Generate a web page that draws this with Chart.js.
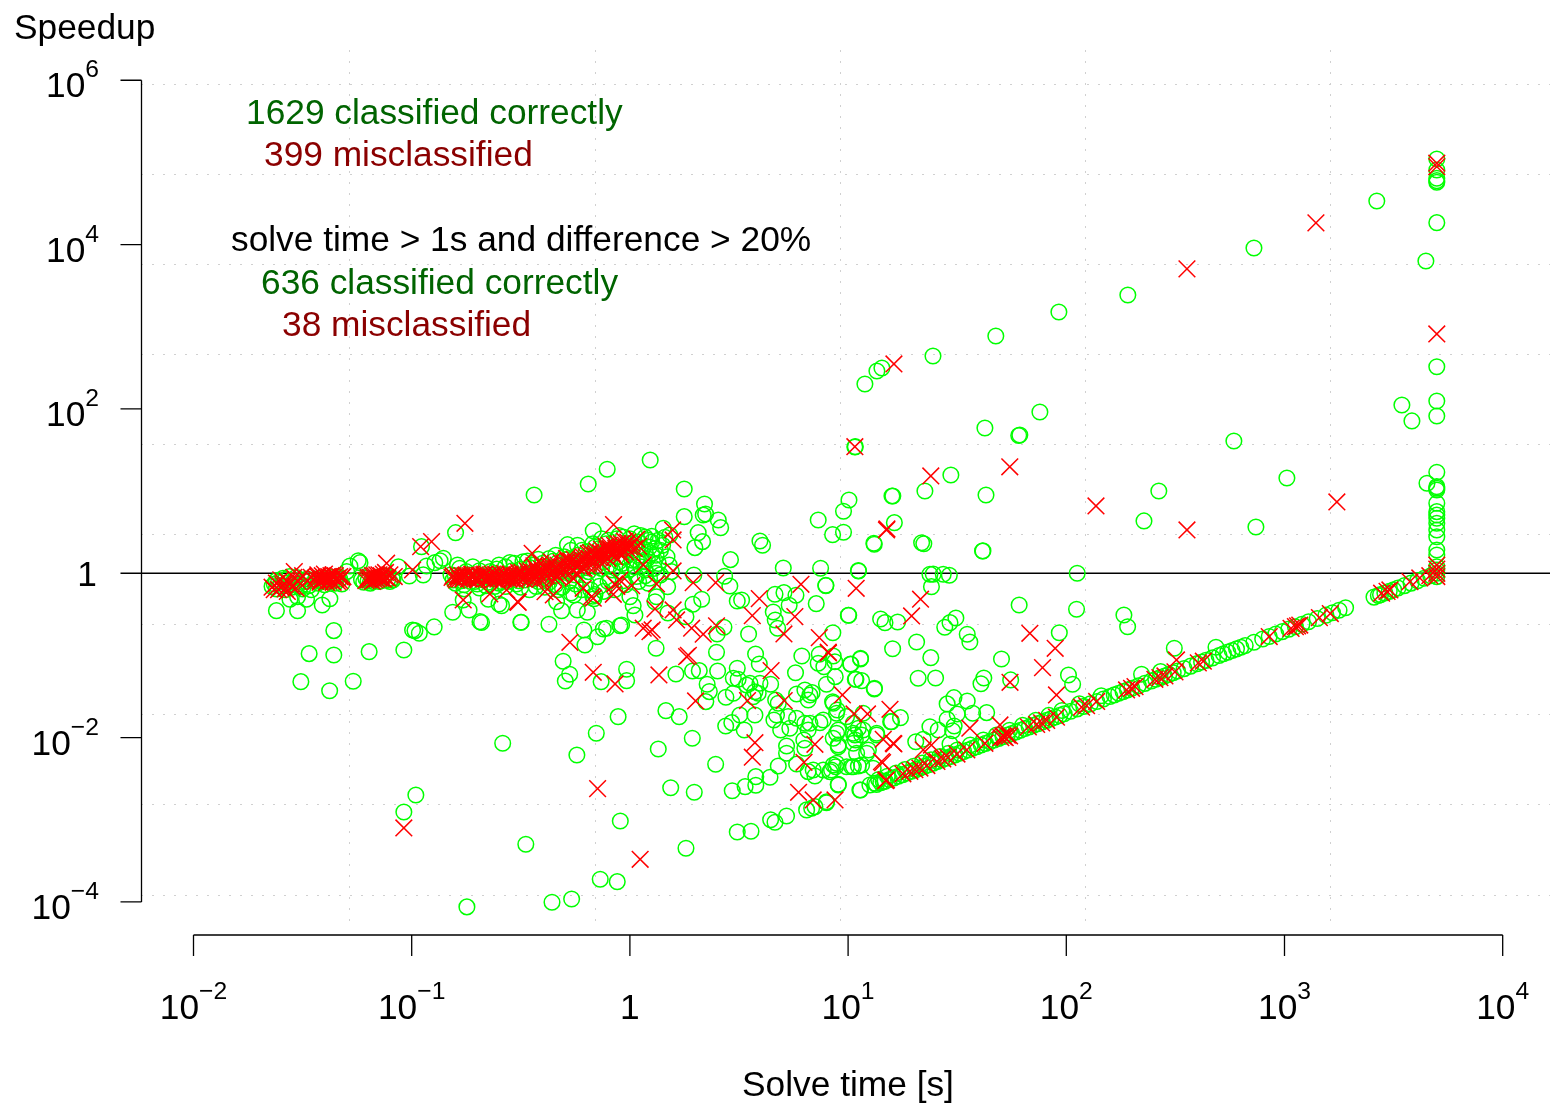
<!DOCTYPE html>
<html>
<head>
<meta charset="utf-8">
<title>Speedup vs solve time</title>
<script src="https://cdn.jsdelivr.net/npm/chart.js@4"></script>
<style>
  html, body { margin: 0; padding: 0; background: #fff; }
  canvas { display: block; }
</style>
</head>
<body>
<canvas id="chart" width="1550" height="1103"></canvas>
<script>
// all marks are [log10(solve time), log10(speedup)]
const xExponents = [-2, -1, 0, 1, 2, 3, 4];
const yExponents = [-4, -2, 0, 2, 4, 6];
const xGridExponents = [-1.283, -0.156, 0.967, 2.09, 3.213];
const yGridExponents = [5.943, 4.847, 3.752, 2.657, 1.562, 0.466, -0.629, -1.724, -2.819, -3.923];

const correctFlat = [
  [-1.64,-.16],[-1.63,-.13],[-1.62,-.19],[-1.62,-.09],[-1.6,-.15],[-1.59,-.06],[-1.58,-.2],[-1.57,-.12],[-1.56,-.04],[-1.55,-.17],
  [-1.54,-.09],[-1.52,-.13],[-1.5,-.19],[-1.49,-.1],[-1.47,-.15],[-1.46,-.2],[-1.44,-.07],[-1.43,-.12],[-1.42,-.08],[-1.4,-.14],
  [-1.38,-.1],[-1.37,-.05],[-1.35,-.12],[-1.33,-.07],[-1.32,-.13],[-1.23,-.08],[-1.22,-.11],[-1.2,-.09],[-1.19,-.12],[-1.17,-.07],
  [-1.15,-.1],[-1.13,-.05],[-1.11,-.08],[-1.09,-.06],[-1.086,-.08],[-.82,-.02],[-.81,-.08],[-.8,-.12],[-.79,.1],[-.78,-.04],
  [-.76,-.14],[-.75,.02],[-.73,-.1],[-.72,-.04],[-.7,-.13],[-.69,.03],[-.67,-.08],[-.66,-.15],[-.64,.02],[-.63,-.06],
  [-.61,.05],[-.6,-.12],[-.58,-.02],[-.57,.08],[-.56,-.1],[-.54,.03],[-.53,.12],[-.52,-.13],[-.5,.05],[-.49,.14],
  [-.48,-.08],[-.46,.07],[-.45,-.02],[-.44,.1],[-.43,-.16],[-.41,.02],[-.4,.12],[-.38,-.06],[-.37,.18],[-.36,.06],
  [-.34,-.14],[-.33,.13],[-.32,.02],[-.3,.2],[-.29,.08],[-.28,-.1],[-.27,.28],[-.26,.14],[-.25,-.02],[-.24,.22],
  [-.23,.06],[-.22,-.2],[-.21,.16],[-.2,.26],[-.19,.02],[-.18,.1],[-.17,-.28],[-.165,-.31],[-.16,-.26],[-.15,.2],
  [-.14,.3],[-.13,.06],[-.12,.14],[-.11,.36],[-.1,-.1],[-.09,.24],[-.08,.04],[-.07,.32],[-.06,.42],[-.05,.14],
  [-.04,.3],[-.03,.44],[-.02,.2],[-.01,.36],[0,.05],[.01,.28],[.02,.48],[.03,.16],[.04,.38],[.05,.08],
  [.06,.3],[.07,.44],[.08,.18],[.09,.32],[.1,.38],[.11,.06],[.12,.22],[.13,.12],[.14,.28],[.15,.34]
];

const correctDense = [
  [-1.61,-.11],[-1.58,-.08],[-1.53,-.05],[-1.51,-.16],[-1.48,-.07],[-1.41,-.1],[-1.39,-.06],[-1.36,-.09],[-1.34,-.04],[-1.21,-.06],
  [-1.18,-.1],[-1.16,-.05],[-1.14,-.09],[-1.12,-.03],[-1.1,-.1],[-.8,-.03],[-.77,-.09],[-.74,-.02],[-.71,-.1],[-.68,-.03],
  [-.65,-.11],[-.62,-.02],[-.59,-.1],[-.55,-.04],[-.51,-.09],[-.47,-.01],[-.42,-.1],[-.39,.08],[-.35,-.04],[-.31,.1],
  [-.27,.02],[-.235,.14],[-.19,.18],[-.155,.08],[-.125,.24],[-.09,.1],[-.06,.2],[-.035,.12],[-.015,.28],[.01,.16],
  [.025,.36],[.045,.22],[.065,.14],[.085,.4],[.1,.24],[.115,.3],[-.44,-.07],[-.37,-.11],[-.31,-.17],[-.25,-.13],
  [-.2,-.12],[-.14,-.16],[-.09,-.08],[-.03,-.09],[.03,-.04],[.07,-.03],[-.34,.22],[-.24,.34],[-.17,.36],[-.13,.42],
  [-.78,.06],[-.72,.08],[-.66,.07],[-.6,.1],[-.55,.13],[-.47,.15],[-.42,.17],[-.35,.15],[-.28,.18],[-.22,.28],
  [-.16,.32],[-.1,.4],[-.05,.46],[0,.42],[.05,.46],[.1,.45],[.13,.4],[.17,.2],[.18,.1],[.19,.02],
  [-.76,-.19],[-.69,-.18],[-.62,-.16],[-.57,-.16],[-.5,-.17],[-.46,-.2],[-.39,-.17],[-.33,-.2],[-.27,-.24],[-.18,-.2],
  [-.12,-.22],[-.07,-.2],[-.02,-.14],[.04,-.1],[.09,-.06],[.14,-.02],[-.04,.02],[.02,.08],[.07,.04],[.12,.0]
];

const correctMiddle = [
  [-1.62,-.455],[-1.523,-.455],[-1.41,-.386],[-1.375,-.31],[-1.482,-.316],[-1.558,-.316],[-1.523,-.285],[-1.357,-.698],[-1.47,-.978],[-1.357,-.994],
  [-1.195,-.954],[-1.036,-.933],[-1.508,-1.319],[-1.376,-1.429],[-1.268,-1.315],[-.996,-.69],[-.985,-.698],[-.965,-.73],[-.897,-.653],[-.812,-.475],
  [-.764,-.325],[-.737,-.447],[-.687,-.589],[-.68,-.6],[-.649,-.316],[-.6,-.374],[-.5,-.596],[-.799,.494],[-.955,.324],[-.439,.953],
  [-1.283,.089],[-1.245,.153],[-1.237,.129],[-1.298,.02],[-1.061,.08],[-.855,.182],[-.87,.153],[-.894,.129],[-.932,.089],[-.947,-.02],[-1.011,-.033],
  [-.191,1.087],[-.104,1.266],[.093,1.379],[.249,1.026],[.342,.843],[.347,.722],[.336,.71],[.405,.649],[.416,.555],[.249,.689],
  [.313,.494],[.333,.385],[.298,.312],[.153,.548],[.16,.438],[.183,.466],[-.168,.518],[-.286,.348],[.461,.166],[.596,.393],
  [.608,.341],[.863,.649],[1.004,.892],[.979,.755],[.979,.499],[.929,.47],[1.118,.365],[1.201,.941],[1.212,.616],[1.033,1.541],
  [.703,.065],[.874,.061],[1.048,.028],[.898,-.146],[.854,-.37],[1.003,-.511],[.293,-.021],[.434,-.036],[.458,-.155],[.329,-.316],
  [.289,-.377],[.257,-.528],[.492,-.337],[.512,-.325],[.665,-.256],[.706,-.236],[.761,-.268],[.73,-.389],[.657,-.471],[.666,-.568],
  [.677,-.669],[.544,-.739],[.4,-.739],[.431,-.657],[.397,-.961],[.12,-.913],[.174,-.483],[.122,-.285],[.115,-.346],[.173,-.163],
  [.084,-.122],[0,-.285],[.015,-.394],[.023,-.507],[-.038,-.629],[-.046,-.638],[-.107,-.669],[-.122,-.678],[-.148,-.772],[-.211,-.69],
  [-.206,-.873],[-.306,-1.071],[-.276,-1.229],[-.296,-1.311],[-.132,-1.319],[-.015,-1.168],[-.015,-1.307],[-.371,-.621],[-.498,-.596],[-.588,-.394],
  [-.313,-.455],[-.241,-.447],[-.195,-.475],[-.257,-.264],[-.336,-.346],[.211,-1.226],[.287,-1.189],[.318,-1.185],[.402,-1.189],[.354,-1.351],
  [.364,-1.44],[.348,-1.562],[.165,-1.672],[.226,-1.745],[-.054,-1.745],[-.154,-1.947],[.286,-2.008]
];

const correctLower = [
  [.576,-.982],[.593,-1.104],[.492,-1.156],[.788,-1.006],[.759,-1.21],[.868,-.986],[.863,-1.095],[.889,-1.137],[.932,-1.006],[.939,-1.076],
  [1.011,-1.104],[1.057,-1.034],[1.033,-1.29],[1.062,-1.307],[1.12,-1.408],[.941,-1.258],[.901,-1.351],[.645,-1.351],[.474,-1.278],[.496,-1.29],
  [.55,-1.339],[.535,-1.359],[.596,-1.339],[.44,-1.509],[.474,-1.46],[.573,-1.441],[.588,-1.46],[.565,-1.502],[.668,-1.542],[.68,-1.582],
  [.764,-1.469],[.802,-1.42],[.835,-1.453],[.817,-1.542],[.825,-1.481],[.929,-1.563],[.95,-1.664],[.573,-1.724],[.504,-1.724],[.467,-1.818],
  [.439,-1.858],[.524,-1.907],[.66,-1.785],[.672,-1.724],[.725,-1.745],[.691,-1.907],[.733,-1.886],[.764,-1.764],[.802,-1.825],[.825,-1.825],
  [.817,-1.907],[.871,-1.818],[.993,-1.745],[.955,-1.907],[.932,-2.008],[.955,-2.11],[.718,-2.102],[.718,-2.19],[.797,-2.029],[.802,-2.13],
  [.68,-2.345],[.642,-2.483],[.577,-2.475],[.577,-2.58],[.528,-2.597],[.469,-2.646],[.764,-2.321],[.817,-2.414],[.848,-2.467],[.84,-2.394],
  [.932,-2.333],[.917,-2.414],[.947,-2.312],[.955,-2.568],[.901,-2.792],[.848,-2.84],[.833,-2.86],[.81,-2.88],[.718,-2.954],[.645,-3],
  [.665,-3.03],[.555,-3.14],[.492,-3.148],[.393,-2.325],[.187,-2.61],[.295,-2.665],[.13,-2.138],[-.044,-3.014],[.257,-3.347],[-.243,-2.211],
  [-.583,-2.069],[-.477,-3.298],[-.136,-3.724],[-.058,-3.753],[-.357,-4.004],[-.267,-3.964],[-1.036,-2.905],[-.981,-2.698],[-.747,-4.06],
  [1.069,-1.704],[1.024,-1.825],[1.047,-1.886],[1.024,-1.947],[1.062,-1.968],[1.033,-2.029],[1.069,-1.907],[1.093,-2.15],[1.131,-1.968],[1.199,-1.806],
  [.993,-2.354],[1.016,-2.354],[1.047,-2.345],[1.115,-2.373],[1.054,-2.637],[1.1,-2.576],[1.123,-2.556],[1.161,-2.536],[.932,-1.582],[.947,-1.704],
  [.886,-1.785],[.947,-1.947],[1.031,-1.968],[1.024,-2.069],[.955,-2.09],[1.039,-2.19],[1.085,-2.19],[1.131,-1.947],[1.024,-2.354],[.943,-2.354],[.924,-2.394],[1.062,-2.333],[.886,-2.394]
];

const correctRight = [
  [1.616,.271],[1.12,.353],[1.337,.372],[1.347,.36],[1.047,.032],[1.375,-.012],[1.39,-.01],[1.436,-.012],[1.464,-.024],[2.05,0],
  [.898,-.151],[1.382,-.163],[1.784,-.386],[2.047,-.438],[2.264,-.507],[2.281,-.65],[1.001,-.511],[1.149,-.556],[1.169,-.601],[1.227,-.593],
  [1.443,-.657],[1.467,-.601],[1.494,-.544],[1.546,-.742],[1.558,-.836],[1.968,-.723],[.93,-.723],[1.314,-.836],[1.204,-.918],[1.379,-1.027],
  [1.057,-1.043],[1.013,-1.107],[1.703,-1.043],[1.321,-1.278],[1.401,-1.274],[1.036,-1.29],[1.121,-1.4],[1.622,-1.274],[1.609,-1.344],[1.745,-1.298],
  [2.01,-1.238],[2.029,-1.351],[1.485,-1.514],[1.454,-1.59],[1.546,-1.554],[1.5,-1.712],[1.571,-1.704],[1.635,-1.696],[1.454,-1.777],[1.486,-1.858],
  [1.479,-1.916],[1.24,-1.757],[1.195,-1.806],[1.375,-1.867],[1.413,-1.907],[1.344,-2.02],[1.31,-2.05],[1.467,-2.078],[.955,-2.576],[1.057,-2.637],
  [.901,-2.78],[2.345,-1.229],[2.432,-1.197],[2.495,-.913],[2.686,-.901],
  [3.423,4.531],[2.86,3.959],[2.282,3.387],[1.966,3.18],[1.677,2.888],[1.389,2.644],[1.155,2.498],[1.132,2.462],[1.077,2.304],[1.031,1.537],
  [1.627,1.768],[1.787,1.683],[1.782,1.676],[1.879,1.963],[1.471,1.196],[1.352,1.001],[1.205,.941],[1.632,.953],[1.618,.272],[2.768,1.61],
  [3.011,1.16],[2.424,1.002],[2.356,.637],[2.869,.563],[3.648,3.8],[3.538,2.048],[3.584,1.854],[3.653,1.095]
];

const correctTimeout = [
  [3.698,5.042],[3.698,4.908],[3.698,4.807],[3.698,4.778],[3.698,4.758],[3.698,4.267],[3.698,2.514],[3.698,2.097],[3.698,1.914],[3.698,1.229],
  [3.698,1.054],[3.698,1.034],[3.698,1.014],[3.698,.852],[3.698,.75],[3.698,.71],[3.698,.669],[3.698,.608],[3.698,.527],[3.698,.445],
  [3.698,.284],[3.698,.223],[3.698,.08],[3.698,.04],[3.698,0],[3.698,-.041]
];

const correctDiagonal = [
  [1.13,-2.57],[1.15,-2.55],[1.17,-2.53],[1.19,-2.51],[1.21,-2.49],[1.23,-2.47],[1.25,-2.45],[1.27,-2.43],[1.29,-2.41],[1.31,-2.39],
  [1.33,-2.37],[1.35,-2.35],[1.37,-2.33],[1.39,-2.31],[1.41,-2.29],[1.43,-2.27],[1.45,-2.25],[1.47,-2.23],[1.49,-2.21],[1.51,-2.19],
  [1.53,-2.17],[1.55,-2.15],[1.57,-2.13],[1.59,-2.11],[1.61,-2.09],[1.63,-2.07],[1.65,-2.05],[1.67,-2.03],[1.69,-2.01],[1.71,-1.99],
  [1.73,-1.97],[1.75,-1.95],[1.77,-1.93],[1.79,-1.91],[1.81,-1.89],[1.83,-1.87],[1.85,-1.85],[1.87,-1.83],[1.89,-1.81],[1.91,-1.79],
  [1.93,-1.77],[1.95,-1.75],[1.97,-1.73],[1.99,-1.71],[2.02,-1.68],[2.05,-1.65],[2.08,-1.62],[2.11,-1.59],[2.14,-1.56],[2.17,-1.53],
  [2.2,-1.5],[2.22,-1.48],[2.24,-1.46],[2.26,-1.44],[2.28,-1.42],[2.3,-1.4],[2.33,-1.37],[2.36,-1.34],[2.39,-1.31],[2.41,-1.29],
  [2.43,-1.27],[2.45,-1.25],[2.47,-1.23],[2.49,-1.21],[2.51,-1.19],[2.54,-1.16],[2.57,-1.13],[2.6,-1.1],[2.62,-1.08],[2.64,-1.06],
  [2.67,-1.03],[2.7,-1],[2.72,-.98],[2.74,-.96],[2.76,-.94],[2.78,-.92],[2.8,-.9],[2.82,-.88],[2.86,-.84],[2.9,-.8],
  [2.93,-.77],[2.96,-.74],[2.99,-.71],[3.02,-.68],[3.05,-.65],[3.08,-.62],[3.11,-.59],[3.15,-.55],[3.19,-.51],[3.22,-.48],[3.25,-.45],[3.28,-.42],
  [3.41,-.29],[3.43,-.27],[3.44,-.26],[3.46,-.24],[3.48,-.22],[3.5,-.2],[3.52,-.18],[3.55,-.15],[3.58,-.12],[3.61,-.09],[3.64,-.06],[3.67,-.03],
  [1.14,-2.51],[1.18,-2.47],[1.22,-2.43],[1.26,-2.39],[1.3,-2.35],[1.34,-2.31],[1.38,-2.27],[1.42,-2.23],[1.46,-2.19],[1.5,-2.15],
  [1.56,-2.09],[1.62,-2.03],[1.68,-1.97],[1.74,-1.91],[1.8,-1.85],[1.86,-1.79],[1.92,-1.73],[1.98,-1.67],[2.06,-1.59],[2.16,-1.49]
];

const wrongFlat = [
  [-1.64,-.17],[-1.62,-.12],[-1.61,-.2],[-1.6,-.08],[-1.59,-.14],[-1.58,-.19],[-1.57,-.1],[-1.55,-.16],[-1.54,-.05],[-1.538,.02],
  [-1.52,-.1],[-1.5,-.03],[-1.48,-.09],[-1.46,-.05],[-1.44,-.1],[-1.43,-.04],[-1.42,-.09],[-1.41,-.03],[-1.4,-.07],[-1.39,-.11],
  [-1.38,-.04],[-1.37,-.08],[-1.36,-.02],[-1.35,-.07],[-1.34,-.1],[-1.33,-.04],[-1.315,-.041],[-1.2,-.08],[-1.19,-.05],[-1.18,-.1],
  [-1.17,-.03],[-1.16,-.07],[-1.15,-.02],[-1.14,-.06],[-1.13,-.01],[-1.12,-.05],[-1.115,.122],[-1.1,-.02],[-1.08,-.04],[-.996,.04],
  [-.756,.608],[-.909,.385],[-.959,.324],[-.764,-.325],[-.642,-.252],[-.515,-.345],[-.565,-.203],
  [-.81,-.03],[-.8,-.06],[-.79,-.02],[-.78,-.07],[-.77,-.03],[-.76,-.05],[-.75,-.02],[-.74,-.07],[-.73,-.03],[-.72,-.05],
  [-.71,-.02],[-.7,-.07],[-.69,-.03],[-.68,-.05],[-.67,-.02],[-.66,-.07],[-.65,-.03],[-.64,-.05],[-.63,-.01],[-.62,-.07],
  [-.61,-.03],[-.6,-.05],[-.59,-.02],[-.58,-.07],[-.57,-.03],[-.56,-.05],[-.55,-.01],[-.54,-.07],[-.53,-.03],[-.52,-.05],
  [-.51,.01],[-.5,-.06],[-.49,-.02],[-.48,-.04],[-.47,.03],[-.46,-.06],[-.45,.01],[-.448,.243],[-.44,-.03],[-.43,.05],
  [-.42,-.01],[-.41,-.07],[-.4,.03],[-.39,.06],[-.38,-.03],[-.37,.08],[-.36,.02],[-.35,-.06],[-.34,.06],[-.33,.1],
  [-.32,0],[-.31,.08],[-.3,.12],[-.29,.03],[-.28,.1],[-.27,.15],[-.26,.04],[-.25,.13],[-.24,-.02],[-.23,.1],
  [-.22,.17],[-.21,.06],[-.2,.2],[-.19,.12],[-.18,.25],[-.17,.17],[-.16,.22],[-.15,.27],[-.14,.19],[-.13,.29],
  [-.12,.23],[-.11,.33],[-.1,.26],[-.09,.3],[-.08,.24],[-.07,.34],[-.06,.27],[-.05,.31],[-.04,.36],[-.03,.29],
  [-.02,.34],[-.01,.38],[.031,.414],[-.075,.592],[.061,.101],[.198,.028],[.122,-.13],[.29,-.114],[.393,-.114],[1.176,.527],
  [-.512,-.353],[-.389,-.224],[-.351,-.264],[-.214,-.183],[-.168,-.304],[-.176,-.285],[-.076,-.256],[-.046,-.082],[.008,-.151],[-.07,-.13],[-.06,-.16],
  [.196,.527],[.198,.405]
];

const wrongDense = [
  [-1.63,-.2],[-1.6,-.17],[-1.57,-.22],[-1.56,-.13],[-1.53,-.18],[-1.44,-.06],[-1.43,-.02],[-1.42,-.11],[-1.41,-.07],[-1.4,-.01],
  [-1.39,-.05],[-1.38,-.09],[-1.37,-.03],[-1.36,-.11],[-1.35,-.03],[-1.34,-.06],[-1.33,-.09],[-1.32,-.05],[-1.21,-.09],[-1.2,-.05],
  [-1.19,-.08],[-1.18,-.03],[-1.17,-.08],[-1.16,-.02],[-1.15,-.06],[-1.14,-.03],[-1.13,-.07],[-1.12,.01],[-1.11,-.06],
  [-.815,-.05],[-.795,-.08],[-.785,-.04],[-.765,-.07],[-.755,-.03],[-.735,-.06],[-.725,-.01],[-.705,-.05],[-.695,-.08],[-.675,-.04],
  [-.665,-.01],[-.645,-.07],[-.635,-.04],[-.615,-.01],[-.605,-.07],[-.585,-.04],[-.575,0],[-.555,-.07],[-.545,-.03],[-.525,-.08],
  [-.515,-.02],[-.495,.01],[-.485,-.07],[-.465,-.01],[-.455,.03],[-.435,-.07],[-.425,.02],[-.405,.05],[-.395,-.01],[-.375,.03],
  [-.365,.1],[-.345,.01],[-.335,.07],[-.315,.13],[-.305,.03],[-.285,.15],[-.275,.07],[-.255,.17],[-.245,.09],[-.225,.14],
  [-.215,.2],[-.195,.09],[-.185,.18],[-.165,.13],[-.155,.24],[-.135,.25],[-.125,.18],[-.105,.29],[-.095,.34],[-.085,.28],[-.065,.3],[-.055,.36],[-.045,.26],[-.025,.39],[-.015,.31],
  [-.44,.09],[-.41,.12],[-.36,.14],[-.33,-.04],[-.29,.18],[-.26,-.06],[-.22,.07],[-.19,.24],[-.16,.08],[-.13,.12],
  [-.1,.18],[-.07,.2],[-.04,.22],[-.02,.26],[0,.32],[.01,.36],[.02,.3],[.04,.33]
];

const wrongScattered = [
  [.784,-.134],[1.037,-.183],[.593,-.309],[.756,-.528],[.561,-.516],[.706,-.739],[.868,-.783],[.909,-.961],[.115,-.434],[.198,-.447],
  [.214,-.568],[.283,-.669],[.336,-.742],[.397,-.641],[.061,-.669],[.102,-.69],[.092,-.71],[.26,-1.014],[.268,-1],[-.275,-.84],
  [-.168,-1.205],[-.068,-1.347],[.133,-1.238],[.647,-1.185],[.301,-1.554],[.539,-1.55],[.707,-1.55],[.974,-1.481],[1.027,-1.712],[1.089,-1.712],
  [1.192,-1.655],[.573,-2.062],[.561,-2.239],[-.148,-2.621],[.047,-3.481],[.848,-2.081],[.798,-2.3],[1.158,-2.305],[1.176,-2.515],[.773,-2.665],
  [.84,-2.759],[.94,-2.759],[1.161,-2.02],[1.207,-2.069],[-1.036,-3.1],[3.144,4.264],[2.553,3.704],[1.21,2.547],[1.031,1.54],[1.379,1.184],
  [1.741,1.296],[2.136,.819],[2.553,.527],[3.24,.868],[1.178,.539],[3.698,4.99],[3.698,4.948],[3.698,2.912],[1.332,-.316],[1.291,-.52],
  [1.833,-.73],[1.949,-.913],[1.891,-1.149],[1.742,-1.327],[1.955,-1.481],[1.21,-2.077],[1.153,-2.293],[1.172,-2.524],[1.382,-2.09],[1.344,-2.15],
  [1.558,-1.886],[1.627,-2.069],[1.696,-1.846],[2.505,-1.055],[.91,-.97]
];

const wrongDiagonal = [
  [1.251,-2.44],[1.283,-2.41],[1.306,-2.39],[1.329,-2.37],[1.361,-2.34],[1.407,-2.29],[1.434,-2.26],[1.457,-2.24],[1.499,-2.2],[1.544,-2.15],
  [1.7,-2],[1.71,-1.98],[1.72,-2],[1.73,-1.97],[1.74,-1.98],[1.715,-1.99],[1.826,-1.87],[1.864,-1.84],[1.887,-1.82],[1.91,-1.79],
  [1.955,-1.75],[2.07,-1.63],[2.093,-1.61],[2.139,-1.56],[2.276,-1.42],[2.299,-1.4],[2.315,-1.38],[2.406,-1.29],[2.429,-1.27],[2.452,-1.25],
  [2.498,-1.2],[2.605,-1.09],[2.628,-1.07],[2.93,-.77],[3.03,-.67],[3.05,-.65],[3.06,-.64],[3.07,-.63],[3.16,-.54],[3.21,-.49],
  [3.445,-.243],[3.483,-.203],[3.575,-.102],[3.62,-.057],[3.666,-.03],[3.698,.1],[3.698,.05],[3.698,0],[3.698,-.04],[3.47,-.22]
];

const noteLines = ["1629 classified correctly", "399 misclassified", "solve time > 1s and difference > 20%", "636 classified correctly", "38 misclassified"];
const noteColors = ["#006400", "#8b0000", "#000000", "#006400", "#8b0000"];
const noteX = [246, 264, 231, 261, 282];
const noteY = [124, 166, 251, 294, 336];

const toPoints = (list) => list.map((p) => ({ x: Math.pow(10, p[0]), y: Math.pow(10, p[1]) }));

const xMin = Math.pow(10, -2.2406);
const xMax = Math.pow(10, 4.2168);
const yMin = Math.pow(10, -4.317);
const yMax = Math.pow(10, 6.368);

const correct = toPoints([...correctFlat, ...correctDense, ...correctMiddle, ...correctLower, ...correctRight, ...correctTimeout, ...correctDiagonal]);
const wrong = toPoints([...wrongFlat, ...wrongDense, ...wrongScattered, ...wrongDiagonal]);

const mainFont = "35.3px 'Liberation Sans'";
const supFont = "24.7px 'Liberation Sans'";

// exponent label: "10" with a raised power, right edge or centre given by align
function powerLabel(ctx, exp, x, y, align) {
  const base = "10";
  const sup = String(exp).replace("-", "\u2212");
  ctx.font = mainFont;
  const w1 = ctx.measureText(base).width;
  ctx.font = supFont;
  const w2 = ctx.measureText(sup).width;
  let left = align === "right" ? x - w1 - w2 : x - (w1 + w2) / 2;
  ctx.textAlign = "left";
  ctx.font = mainFont;
  ctx.fillText(base, left, y);
  ctx.font = supFont;
  ctx.fillText(sup, left + w1, y - 20);
}

const rAxes = {
  id: "rAxes",
  afterDraw(chart) {
    const ctx = chart.ctx;
    const sx = chart.scales.x;
    const sy = chart.scales.y;
    const axisX = chart.chartArea.left + 0.5;
    const axisY = chart.chartArea.bottom + 7;
    ctx.save();
    ctx.strokeStyle = "#000";
    ctx.fillStyle = "#000";
    ctx.lineWidth = 1.3;
    ctx.textBaseline = "alphabetic";

    // left axis
    ctx.beginPath();
    ctx.moveTo(axisX, sy.getPixelForValue(Math.pow(10, yExponents[0])));
    ctx.lineTo(axisX, sy.getPixelForValue(Math.pow(10, yExponents[yExponents.length - 1])));
    yExponents.forEach((e) => {
      const py = sy.getPixelForValue(Math.pow(10, e));
      ctx.moveTo(axisX, py);
      ctx.lineTo(axisX - 21, py);
    });
    // bottom axis
    ctx.moveTo(sx.getPixelForValue(Math.pow(10, xExponents[0])), axisY);
    ctx.lineTo(sx.getPixelForValue(Math.pow(10, xExponents[xExponents.length - 1])), axisY);
    xExponents.forEach((e) => {
      const px = sx.getPixelForValue(Math.pow(10, e));
      ctx.moveTo(px, axisY);
      ctx.lineTo(px, axisY + 21);
    });
    ctx.stroke();

    yExponents.forEach((e) => {
      const py = sy.getPixelForValue(Math.pow(10, e));
      if (e === 0) {
        ctx.font = mainFont;
        ctx.textAlign = "right";
        ctx.fillText("1", 97, py + 13);
      } else {
        powerLabel(ctx, e, 99, py + 17, "right");
      }
    });
    xExponents.forEach((e) => {
      const px = sx.getPixelForValue(Math.pow(10, e));
      if (e === 0) {
        ctx.font = mainFont;
        ctx.textAlign = "center";
        ctx.fillText("1", px, 1019);
      } else {
        powerLabel(ctx, e, px, 1019, "center");
      }
    });

    ctx.font = mainFont;
    ctx.textAlign = "left";
    ctx.fillText("Speedup", 14, 39);
    ctx.textAlign = "center";
    ctx.fillText("Solve time [s]", 848, 1096);
    ctx.textAlign = "left";
    noteLines.forEach((t, i) => {
      ctx.fillStyle = noteColors[i];
      ctx.fillText(t, noteX[i], noteY[i]);
    });
    ctx.restore();
  },
};

const gridOpts = {
  display: true,
  drawTicks: false,
  color: "#d0d0d0",
  lineWidth: 1,
};

new Chart(document.getElementById("chart").getContext("2d"), {
  type: "scatter",
  data: {
    datasets: [
      {
        label: "misclassified",
        data: wrong,
        pointStyle: "crossRot",
        pointRadius: 11.8,
        borderColor: "#ff0000",
        pointBorderWidth: 1.5,
        backgroundColor: "transparent",
      },
      {
        label: "classified correctly",
        data: correct,
        pointStyle: "circle",
        pointRadius: 7.8,
        borderColor: "#00ff00",
        pointBorderWidth: 1.5,
        backgroundColor: "transparent",
      },
      {
        label: "no speedup",
        data: [{ x: xMin, y: 1 }, { x: xMax, y: 1 }],
        showLine: true,
        pointRadius: 0,
        borderColor: "#000",
        borderWidth: 1.3,
      },
    ],
  },
  options: {
    responsive: false,
    animation: false,
    layout: { autoPadding: false, padding: { left: 141, right: 0, top: 50, bottom: 175 } },
    plugins: { legend: { display: false }, tooltip: { enabled: false } },
    scales: {
      x: {
        type: "logarithmic",
        min: xMin,
        max: xMax,
        grid: gridOpts,
        border: { display: false, dash: [2, 9] },
        ticks: { display: false, autoSkip: false },
        afterBuildTicks: (scale) => {
          scale.ticks = xGridExponents.map((e) => ({ value: Math.pow(10, e) }));
        },
      },
      y: {
        type: "logarithmic",
        min: yMin,
        max: yMax,
        grid: gridOpts,
        border: { display: false, dash: [2, 9] },
        ticks: { display: false, autoSkip: false },
        afterBuildTicks: (scale) => {
          scale.ticks = yGridExponents.map((e) => ({ value: Math.pow(10, e) }));
        },
      },
    },
  },
  plugins: [rAxes],
});
</script>
</body>
</html>
